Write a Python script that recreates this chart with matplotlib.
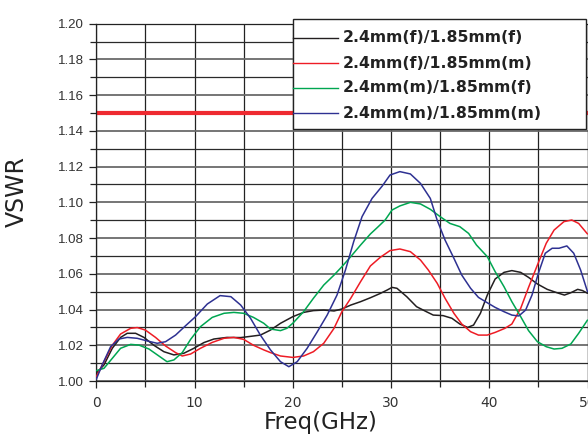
import matplotlib
matplotlib.use("Agg")
import matplotlib.pyplot as plt
from matplotlib.patches import Rectangle
from matplotlib.lines import Line2D

# ---- data ----
series_names = ["2.4mm(f)/1.85mm(f)", "2.4mm(f)/1.85mm(m)",
                "2.4mm(m)/1.85mm(f)", "2.4mm(m)/1.85mm(m)"]
series_colors = ["#231f20", "#ee1c25", "#00a651", "#2e3192"]

black_f = [0, 0.78, 1.63, 2.47, 3.15, 4.0, 4.85, 5.86, 6.88, 7.9, 8.9, 9.93, 10.95, 11.97,
           13.3, 14.7, 16.0, 16.7, 17.73, 18.75, 20, 21.1, 22.1, 23.15, 24.2, 25, 25.9,
           26.9, 27.9, 28.9, 29.6, 30.1, 30.6, 31.6, 32.6, 33.6, 34.3, 35.3, 36.2, 37.0,
           37.8, 38.4, 39.1, 39.8, 40.6, 41.5, 42.3, 43.2, 44.0, 44.9, 45.9, 46.9, 47.65,
           48.3, 49.0, 49.5, 50]
black_v = [1.0043, 1.009, 1.0183, 1.0244, 1.0267, 1.0267, 1.0244, 1.020, 1.0164, 1.0146,
           1.0155, 1.0183, 1.0215, 1.0235, 1.0244, 1.0243, 1.0252, 1.0257, 1.0285, 1.0323,
           1.036, 1.0384, 1.0394, 1.0397, 1.0392, 1.0403, 1.0425, 1.0444, 1.0466, 1.049,
           1.0509, 1.0524, 1.0519, 1.0472, 1.0416, 1.0388, 1.0369, 1.0366, 1.0351, 1.0319,
           1.030, 1.0313, 1.0379, 1.0481, 1.0571, 1.0608, 1.0618, 1.0608, 1.058, 1.0543,
           1.0513, 1.0494, 1.0481, 1.0494, 1.0513, 1.0506, 1.0491]

red_f = [0, 0.78, 1.63, 2.47, 3.5, 4.17, 5.0, 6.03, 7.05, 8.07, 8.75, 9.6, 10.6, 11.8, 13.0,
         14.0, 15.0, 16.0, 17.05, 17.73, 18.75, 20, 21.1, 22.1, 23.15, 24.2, 25, 25.9,
         26.9, 27.9, 28.9, 29.9, 30.9, 31.97, 33.0, 33.8, 34.7, 35.5, 36.4, 37.2, 38.1,
         38.9, 39.8, 40.6, 41.6, 42.3, 43.2, 44.0, 44.9, 45.8, 46.6, 47.6, 48.4, 49.1, 50]
red_v = [1.0024, 1.0108, 1.020, 1.0263, 1.0295, 1.0299, 1.0285, 1.0244, 1.0196, 1.0159,
         1.014, 1.0151, 1.0183, 1.0216, 1.0239, 1.0244, 1.0233, 1.020, 1.0174, 1.0159,
         1.014, 1.0132, 1.014, 1.0164, 1.0211, 1.0295, 1.0388, 1.0463, 1.0556, 1.0644,
         1.0692, 1.073, 1.0739, 1.0724, 1.0677, 1.0621, 1.0547, 1.0463, 1.0379, 1.0319,
         1.0276, 1.0257, 1.0257, 1.0272, 1.0295, 1.0319, 1.0407, 1.0524, 1.0649, 1.0771,
         1.0845, 1.0892, 1.0901, 1.0882, 1.0823]

green_f = [0, 0.78, 1.63, 2.47, 3.5, 4.34, 5.36, 6.37, 7.2, 7.9, 8.75, 9.6, 10.6, 11.8, 13.0,
           14.0, 15.0, 16.0, 17.05, 17.73, 18.75, 19.4, 20, 21.1, 22.1, 23.15, 24.2, 25,
           25.9, 26.9, 27.9, 28.7, 29.4, 30.1, 30.9, 31.97, 33.0, 34.0, 35, 36.0, 37.0,
           37.9, 38.7, 39.8, 40.6, 41.5, 42.3, 43.2, 44.0, 44.9, 45.8, 46.6, 47.4, 48.3,
           49.1, 50]
green_v = [1.0058, 1.0071, 1.0127, 1.0183, 1.0205, 1.0201, 1.0179, 1.014, 1.0108, 1.0118,
           1.0159, 1.0233, 1.0304, 1.0356, 1.0379, 1.0384, 1.0379, 1.0356, 1.0323, 1.0291,
           1.0282, 1.0295, 1.0323, 1.0388, 1.0463, 1.0537, 1.0593, 1.064, 1.0696, 1.0761,
           1.0823, 1.0864, 1.0901, 1.0957, 1.098, 1.100, 1.0991, 1.0961, 1.092, 1.0882,
           1.0864, 1.0826, 1.0761, 1.0696, 1.0612, 1.0528, 1.0444, 1.036, 1.0282, 1.022,
           1.0192, 1.0179, 1.0183, 1.0207, 1.0267, 1.0341]

blue_f = [0, 0.6, 1.46, 2.3, 3.15, 4.17, 5.2, 6.2, 7.05, 8.07, 9.1, 10.1, 11.3, 12.6, 13.7,
          14.7, 15.7, 16.7, 17.73, 18.75, 19.6, 20.45, 21.46, 22.5, 23.5, 24.5, 25.36,
          26.2, 27.05, 28.07, 29.1, 29.9, 30.9, 31.97, 33.0, 34.0, 34.7, 35.5, 36.4, 37.2,
          38.1, 38.9, 39.8, 40.6, 41.5, 42.3, 43.0, 43.7, 44.35, 45.0, 45.7, 46.4, 47.1,
          47.9, 48.6, 49.3, 50]
blue_v = [1.001, 1.009, 1.0192, 1.0235, 1.0244, 1.0239, 1.0224, 1.0211, 1.022, 1.0257,
          1.031, 1.036, 1.0431, 1.0478, 1.0472, 1.0425, 1.0351, 1.0257, 1.0174, 1.0108,
          1.008, 1.0108, 1.0183, 1.0276, 1.0369, 1.0481, 1.0621, 1.078, 1.092, 1.1022,
          1.1091, 1.1153, 1.1172, 1.1159, 1.1106, 1.1022, 1.090, 1.0789, 1.0687, 1.0593,
          1.0519, 1.0468, 1.0438, 1.0412, 1.0388, 1.0369, 1.0364, 1.0397, 1.0481, 1.0603,
          1.0715, 1.0743, 1.0743, 1.0756, 1.0715, 1.0621, 1.050]

limit_value = 1.15
x_ticks = [0, 10, 20, 30, 40, 50]
y_ticks = [1.00, 1.02, 1.04, 1.06, 1.08, 1.10, 1.12, 1.14, 1.16, 1.18, 1.20]
y_tick_labels = ["1.00", "1.02", "1.04", "1.06", "1.08", "1.10", "1.12", "1.14", "1.16",
                 "1.18", "1.20"]

W, H = 588, 437
fig = plt.figure(figsize=(W / 100, H / 100), dpi=100)
x0, x1 = 96.3, 587.5
y_top, y_bot = 23.7, 381.0
ax = fig.add_axes([x0 / W, 1 - y_bot / H, (x1 - x0) / W, (y_bot - y_top) / H])

ax.set_xlim(0, 50)
ax.set_ylim(1.0, 1.2)

# grid
for xv in range(0, 51, 5):
    ax.axvline(xv, color="#222222", lw=0.9, zorder=1)
for i in range(0, 21):
    yv = 1.0 + i * 0.01
    if i % 2 == 0:
        ax.axhline(yv, color="#6a6a6a", lw=1.3, zorder=1)
    else:
        ax.axhline(yv, color="#2a2a2a", lw=0.9, zorder=1)

ax.axhline(limit_value, color="#ee2a30", lw=3.0, zorder=2)

for f, v, c in zip([black_f, red_f, green_f, blue_f],
                   [black_v, red_v, green_v, blue_v], series_colors):
    ax.plot(f, v, color=c, lw=1.1, zorder=3, solid_joinstyle="round",
            solid_capstyle="round")

ax.set_xticks(x_ticks)
ax.set_xticklabels([str(t) for t in x_ticks], fontsize=10, color="#333333",
                   family="DejaVu Sans")
ax.set_xticks(range(5, 50, 10), minor=True)
ax.set_yticks(y_ticks)
ax.set_yticklabels(y_tick_labels, fontsize=9.5, color="#333333", family="Liberation Sans")
ax.set_yticks([1.01 + 0.02 * i for i in range(10)], minor=True)
ax.tick_params(axis="both", which="major", direction="out", length=5, width=0.9,
               color="#222222", pad=4)
ax.tick_params(axis="both", which="minor", direction="out", length=4, width=0.9,
               color="#222222")
ax.tick_params(axis="x", which="major", pad=6)
for s in ax.spines.values():
    s.set_color("#222222")
    s.set_linewidth(0.9)

fig.text(16.5 / W, 1 - 192 / H, "VSWR", rotation=90, ha="center", va="center",
         fontsize=17, color="#222222", family="DejaVu Sans")
fig.text(321 / W, 1 - 423 / H, "Freq(GHz)", ha="center", va="center",
         fontsize=16.5, color="#222222", family="DejaVu Sans")

# legend box
lx0, lx1, ly0, ly1 = 293, 586, 18.7, 129
rect = Rectangle((lx0 / W, 1 - ly1 / H), (lx1 - lx0) / W, (ly1 - ly0) / H,
                 transform=fig.transFigure, facecolor="white", edgecolor="#222222",
                 lw=1.0, zorder=10)
fig.add_artist(rect)
row_y = [38, 63, 88, 113]
for name, c, ry in zip(series_names, series_colors, row_y):
    fig.add_artist(Line2D([lx0 / W, 338 / W], [1 - ry / H, 1 - ry / H], color=c, lw=1.0,
                          transform=fig.transFigure, zorder=11))
    fig.text(343 / W, 1 - ry / H, name, ha="left", va="center", fontsize=11.3,
             fontweight="bold", color="#222222", family="DejaVu Sans", zorder=12)

fig.savefig("out.png", dpi=100)
